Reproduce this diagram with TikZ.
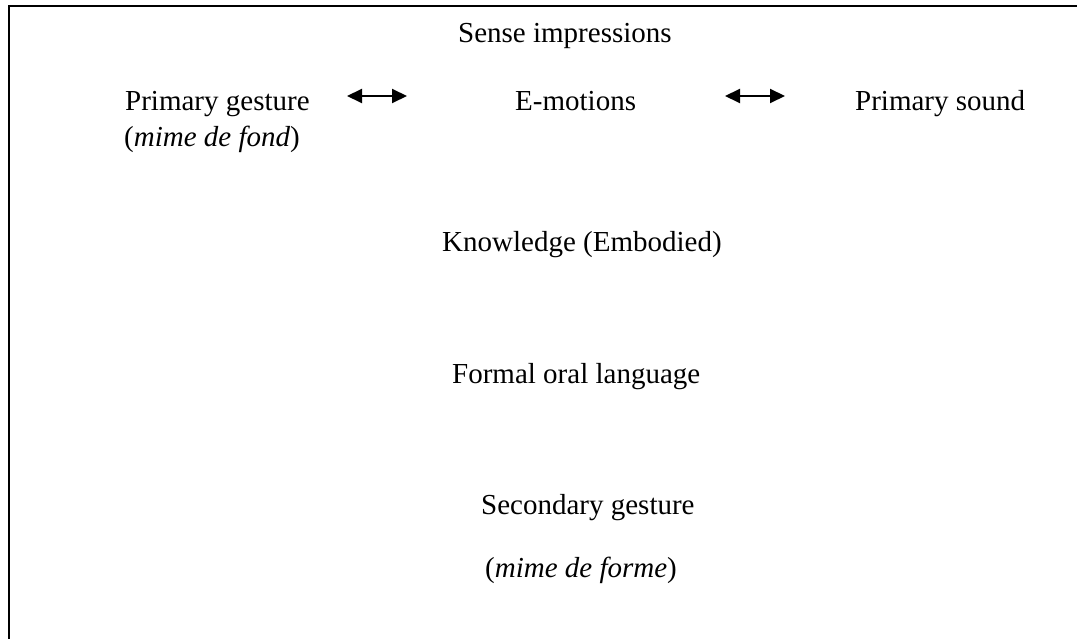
\documentclass[tikz,border=0pt]{standalone}
\usepackage{fontspec}
\setmainfont{Liberation Serif}
\usetikzlibrary{arrows.meta}
\begin{document}
\begin{tikzpicture}[x=1pt,y=-1pt,
  lbl/.style={inner sep=0pt,anchor=base west,font=\fontsize{29}{34}\selectfont},
  frame/.style={line width=2.2pt,black},
  dbl/.style={line width=2pt,{Triangle[length=15pt,width=14pt]}-{Triangle[length=15pt,width=14pt]}}]
\useasboundingbox (0,0) rectangle (1077,639);
\draw[frame] (9,645) -- (9,6.3) -- (1085,6.3);
\node[lbl] (sense) at (458,43) {Sense impressions};
\node[lbl] (pg) at (125,111) {Primary gesture};
\node[lbl] (pgm) at (124,147) {(\textit{mime de fond})};
\node[lbl] (emo) at (515,111) {E-motions};
\node[lbl] (ps) at (855,111) {Primary sound};
\node[lbl] (know) at (442,252) {Knowledge (Embodied)};
\node[lbl] (formal) at (452,383) {Formal oral language};
\node[lbl] (sec) at (481,514) {Secondary gesture};
\node[lbl] (secm) at (485,577) {(\textit{mime de forme})};
\coordinate (a1s) at (347,96);
\coordinate (a1e) at (407,96);
\coordinate (a2s) at (725,96);
\coordinate (a2e) at (785,96);
\draw[dbl] (a1s) -- (a1e);
\draw[dbl] (a2s) -- (a2e);
\end{tikzpicture}
\end{document}
